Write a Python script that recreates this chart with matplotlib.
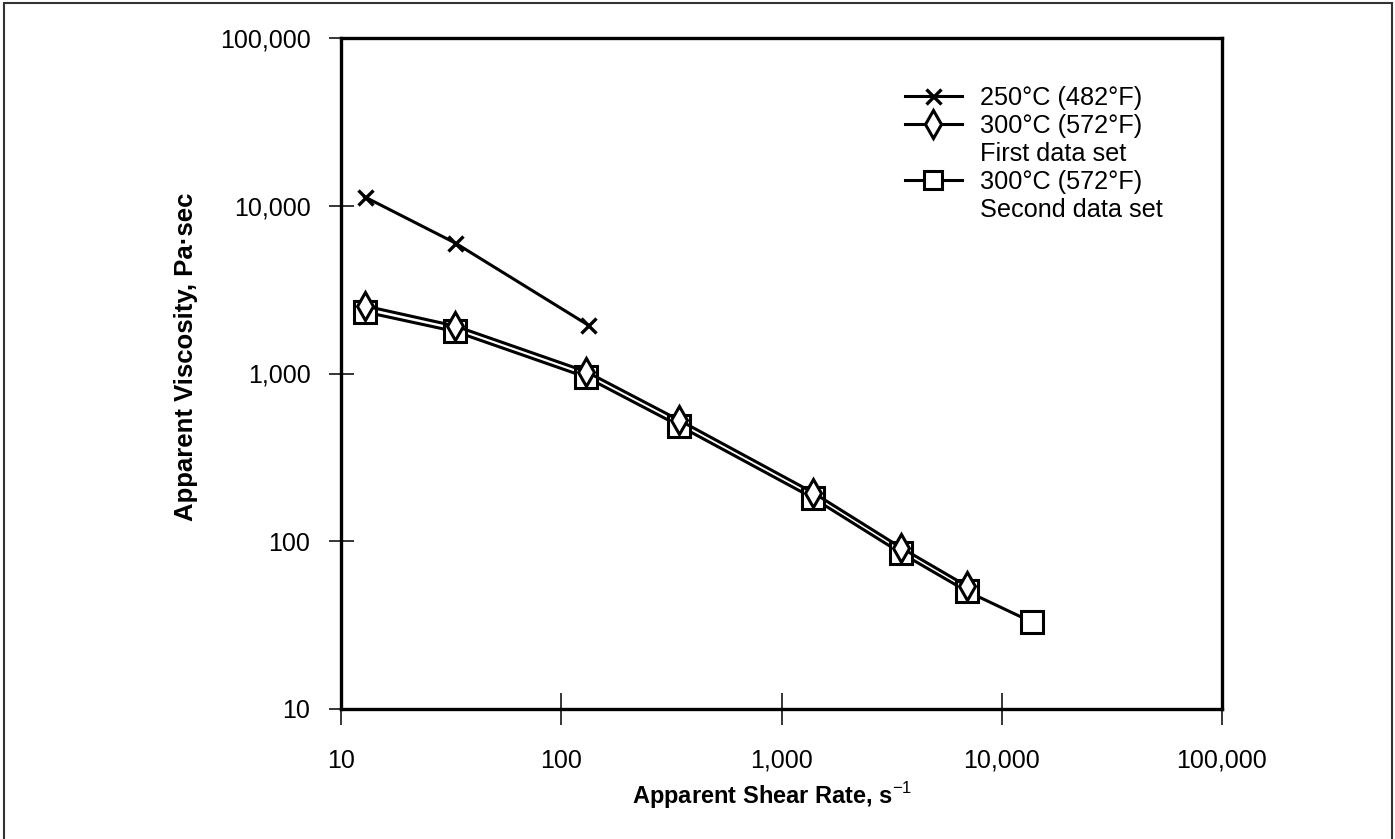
import matplotlib
matplotlib.use("Agg")
import matplotlib.pyplot as plt
from matplotlib.lines import Line2D
from matplotlib.patches import Rectangle
from matplotlib.ticker import FixedLocator, FuncFormatter, NullLocator

plt.rcParams['font.family'] = ['Liberation Sans', 'DejaVu Sans']
plt.rcParams['mathtext.fontset'] = 'custom'
plt.rcParams['mathtext.rm'] = 'Liberation Sans'
plt.rcParams['mathtext.bf'] = 'Liberation Sans:bold'

# Data
shear_250 = [12.8, 33, 132]
visc_250 = [11300, 6000, 1950]

shear_300a = [12.8, 33, 130, 343, 1390, 3490, 6950]
visc_300a = [2530, 1920, 1025, 527, 195, 91.5, 54]

shear_300b = [12.8, 33, 130, 343, 1390, 3490, 6950, 13700]
visc_300b = [2330, 1780, 950, 488, 181, 85, 50.3, 33]

ticks = [10, 100, 1000, 10000, 100000]

label_250 = "250°C (482°F)"
label_300a = "300°C (572°F)"
label_300a2 = "First data set"
label_300b = "300°C (572°F)"
label_300b2 = "Second data set"

W, H = 1395, 839
fig = plt.figure(figsize=(W / 100, H / 100), dpi=100)
ax = fig.add_axes([341 / W, (H - 709) / H, 881 / W, 671 / H])

lw = 2.2
ax.plot(shear_300b, visc_300b, color='black', lw=lw, marker='s', ms=15.5,
        mfc='white', mec='black', mew=2.2, zorder=3)
ax.plot(shear_300a, visc_300a, color='black', lw=lw, marker='d', ms=14.3,
        mfc='white', mec='black', mew=2.2, zorder=4)
ax.plot(shear_250, visc_250, color='black', lw=lw, marker='x', ms=10.8,
        mec='black', mew=2.4, zorder=5)

ax.set_xscale('log')
ax.set_yscale('log')
ax.set_xlim(10, 100000)
ax.set_ylim(10, 100000)

fmt = FuncFormatter(lambda v, p: f"{int(round(v)):,}")
for axis in (ax.xaxis, ax.yaxis):
    axis.set_major_locator(FixedLocator(ticks))
    axis.set_minor_locator(NullLocator())
    axis.set_major_formatter(fmt)

ax.tick_params(axis='x', direction='inout', length=23, width=1.1, pad=17,
               labelsize=18)
ax.tick_params(axis='y', direction='inout', length=18, width=1.1, pad=13,
               labelsize=18)
for s in ax.spines.values():
    s.set_linewidth(2.4)

ax.set_xlabel(r"Apparent Shear Rate, s$^{\mathrm{-1}}$", fontsize=17,
              fontweight='bold')
ax.xaxis.set_label_coords(0.489, -0.106)
ax.set_ylabel("Apparent Viscosity, Pa·sec", fontsize=18.5, fontweight='bold')
ax.yaxis.set_label_coords(-0.162, 0.525)

h1 = Line2D([], [], color='black', lw=lw, marker='x', ms=10.8, mew=2.4)
h2 = Line2D([], [], color='black', lw=lw, marker='d', ms=14.3, mfc='white',
            mew=2.2)
h3 = Line2D([], [], color='none', lw=0)
h4 = Line2D([], [], color='black', lw=lw, marker='s', ms=13, mfc='white',
            mew=2.2)
h5 = Line2D([], [], color='none', lw=0)
ax.legend([h1, h2, h3, h4, h5],
          [label_250, label_300a, label_300a2, label_300b, label_300b2],
          loc='upper left', bbox_to_anchor=((905 - 341) / 881, (709 - 86) / 671),
          frameon=False, fontsize=18.2, handlelength=2.25, handletextpad=0.7,
          labelspacing=0.16, borderpad=0, borderaxespad=0, numpoints=1)

fig.patches.append(Rectangle((4 / W, -0.02), (1392 - 4) / W, 1.02 - 3 / H,
                             transform=fig.transFigure, fill=False,
                             edgecolor='#333333', lw=1.5))

fig.savefig("out.png", dpi=100)
